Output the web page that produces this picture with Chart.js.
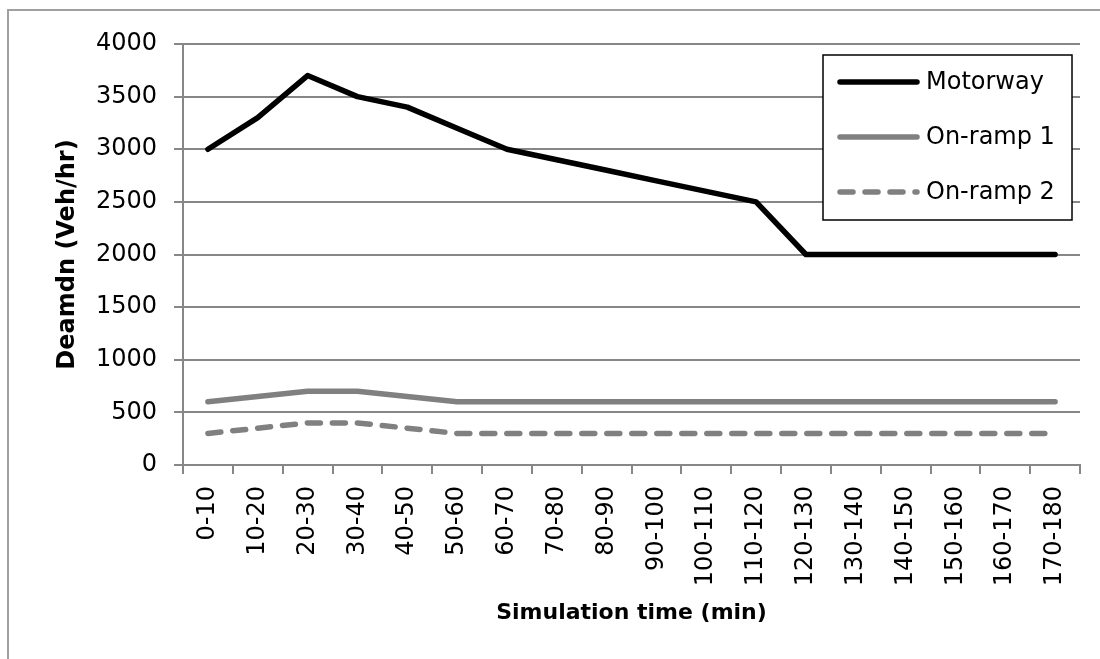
<!DOCTYPE html>
<html lang="en">
<head>
  <meta charset="UTF-8" />
  <title>Demand</title>
  <script src="https://cdn.jsdelivr.net/npm/chart.js"></script>
  <style>
    html, body { margin: 0; padding: 0; background: #fff; }
    #wrap { width: 1100px; height: 659px; }
  </style>
</head>
<body>
  <div id="wrap"><canvas id="demandChart" width="1100" height="659"></canvas></div>

  <script>
    const periods = ['0-10', '10-20', '20-30', '30-40', '40-50', '50-60', '60-70', '70-80', '80-90',
      '90-100', '100-110', '110-120', '120-130', '130-140', '140-150', '150-160', '160-170', '170-180'];
    const motorway = [3000, 3300, 3700, 3500, 3400, 3200, 3000, 2900, 2800, 2700, 2600, 2500,
      2000, 2000, 2000, 2000, 2000, 2000];
    const onRamp1 = [600, 650, 700, 700, 650, 600, 600, 600, 600, 600, 600, 600,
      600, 600, 600, 600, 600, 600];
    const onRamp2 = [300, 350, 400, 400, 350, 300, 300, 300, 300, 300, 300, 300,
      300, 300, 300, 300, 300, 300];

    const font = 'DejaVu Sans';
    const axisGrey = '#878787';

    // white page + thin frame round the whole chart
    const frame = {
      id: 'frame',
      beforeDraw(chart) {
        const c = chart.ctx;
        c.save();
        c.fillStyle = '#fff';
        c.fillRect(0, 0, chart.width, chart.height);
        c.strokeStyle = '#a0a0a0';
        c.lineWidth = 2;
        c.strokeRect(8, 10, chart.width + 20, chart.height + 20);
        c.restore();
      }
    };

    // boxed legend sitting inside the plot, top right
    const boxLegend = {
      id: 'boxLegend',
      afterDraw(chart) {
        const c = chart.ctx;
        const x = 823, y = 55, w = 249, h = 165;
        c.save();
        c.fillStyle = '#fff';
        c.fillRect(x, y, w, h);
        c.strokeStyle = '#000';
        c.lineWidth = 1.5;
        c.strokeRect(x, y, w, h);
        chart.data.datasets.forEach((ds, i) => {
          const cy = 82 + i * 55;
          c.strokeStyle = ds.borderColor;
          c.lineWidth = ds.borderWidth;
          c.lineCap = 'round';
          c.setLineDash(ds.borderDash || []);
          c.beginPath();
          c.moveTo(840, cy);
          c.lineTo(917, cy);
          c.stroke();
          c.setLineDash([]);
          c.fillStyle = '#000';
          c.font = '24px "' + font + '"';
          c.textBaseline = 'middle';
          c.fillText(ds.label, 926, cy + 1);
        });
        c.restore();
      }
    };

    new Chart(document.getElementById('demandChart'), {
      type: 'line',
      data: {
        labels: periods,
        datasets: [
          { label: 'Motorway', data: motorway, borderColor: '#000', borderWidth: 5.5,
            borderCapStyle: 'round', borderJoinStyle: 'round', pointRadius: 0, tension: 0 },
          { label: 'On-ramp 1', data: onRamp1, borderColor: '#808080', borderWidth: 5.5,
            borderCapStyle: 'round', borderJoinStyle: 'round', pointRadius: 0, tension: 0 },
          { label: 'On-ramp 2', data: onRamp2, borderColor: '#808080', borderWidth: 5.5,
            borderDash: [13, 12], borderCapStyle: 'round', borderJoinStyle: 'round', pointRadius: 0, tension: 0 }
        ]
      },
      options: {
        responsive: false,
        animation: false,
        layout: { padding: { left: 0, top: 44, right: 20, bottom: 0 } },
        plugins: { legend: { display: false }, tooltip: { enabled: false } },
        scales: {
          x: {
            offset: true,
            grid: { offset: true, drawOnChartArea: false, drawTicks: true, tickLength: 9, color: axisGrey, lineWidth: 2 },
            border: { display: true, color: axisGrey, width: 2 },
            ticks: { autoSkip: false, maxRotation: 90, minRotation: 90, padding: 12,
              color: '#000', font: { family: font, size: 24 } },
            title: { display: true, text: 'Simulation time (min)', color: '#000',
              font: { family: font, size: 22, weight: 'bold' }, padding: { top: 0, bottom: 33 } },
            afterFit(scale) { scale.height = 194; }
          },
          y: {
            min: 0,
            max: 4000,
            ticks: { stepSize: 500, padding: 17, color: '#000', font: { family: font, size: 24 },
              callback: v => String(v) },
            grid: { color: axisGrey, lineWidth: 2, tickLength: 9 },
            border: { display: true, color: axisGrey, width: 2 },
            title: { display: true, text: 'Deamdn (Veh/hr)', color: '#000',
              font: { family: font, size: 24, weight: 'bold' }, padding: { top: 53, bottom: 0 } },
            afterFit(scale) { scale.width = 183; }
          }
        }
      },
      plugins: [frame, boxLegend]
    });
  </script>
</body>
</html>
